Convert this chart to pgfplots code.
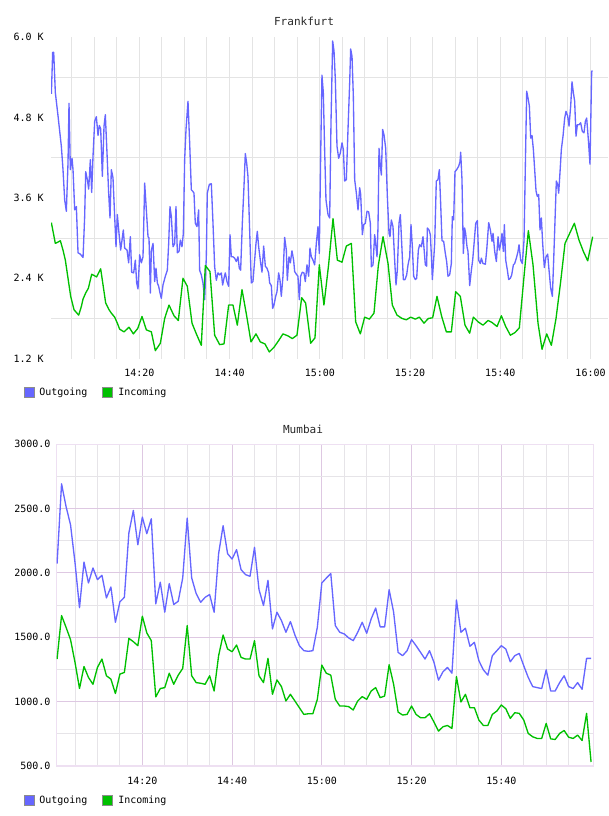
\documentclass[border=0pt]{standalone}
\usepackage{pgfplots}
\pgfplotsset{compat=1.18}
\usepackage{fontspec}
\setmonofont{DejaVu Sans Mono}

\definecolor{outgoing}{RGB}{102,102,255}
\definecolor{incoming}{RGB}{0,192,0}
\definecolor{fgrid}{RGB}{228,228,228}
\definecolor{mmajor}{RGB}{222,200,226}
\definecolor{mminor}{RGB}{230,228,232}
\definecolor{mframe}{RGB}{238,224,242}
\definecolor{keyborder}{RGB}{140,140,140}

\newcommand{\tickfont}{\ttfamily\fontsize{7.5}{9}\selectfont}
\newcommand{\titlefont}{\ttfamily\fontsize{8.3}{10}\selectfont}

\pgfplotsset{
  netchart/.style={
    scale only axis,
    anchor=south west,
    height=241.3pt,
    major tick length=0pt, minor tick length=0pt,
    tick style={draw=none},
    tick label style={font=\tickfont, text=black},
    xmajorgrids, xminorgrids, ymajorgrids, yminorgrids,
  },
  outline/.style={line width=1pt, line join=round, mark=none},
}

\begin{document}
\begin{tikzpicture}
\path[use as bounding box, clip] (0pt,0pt) rectangle (456pt,612pt);

% ---------------- Frankfurt ----------------
\node[font=\titlefont, anchor=base, text={rgb,255:red,40;green,40;blue,40}] at (228pt,592.5pt) {Frankfurt};

\begin{axis}[netchart,
  at={(38.25pt,342.98pt)}, width=417.75pt,
  xmin=0.43, xmax=123.87, ymin=1.2, ymax=6.0,
  axis line style={draw=none},
  xtick={20,40,60,80,100,120},
  xticklabels={14:20,14:40,15:00,15:20,15:40,16:00},
  minor xtick={5,10,15,25,30,35,45,50,55,65,70,75,85,90,95,105,110,115},
  ytick={1.2,2.4,3.6,4.8,6.0},
  yticklabels={1.2 K,2.4 K,3.6 K,4.8 K,6.0 K},
  minor ytick={1.8,3.0,4.2,5.4},
  ymajorgrids=false,
  xticklabel style={anchor=base, inner sep=0pt, yshift=-13.5pt},
  yticklabel style={anchor=east, inner sep=0pt, xshift=-5.25pt},
  major grid style={fgrid, line width=0.75pt},
  minor grid style={fgrid, line width=0.75pt},
]
% outgoing traffic, thousands
\addplot[outline, outgoing] table {
t v
0.51 5.15
0.80 5.77
1.03 5.77
1.39 5.17
1.99 4.82
2.72 4.37
3.09 4.02
3.46 3.57
3.83 3.40
4.20 4.12
4.42 5.01
4.72 4.02
5.09 4.19
5.31 4.02
5.68 3.42
6.05 3.47
6.42 2.78
6.93 2.76
7.53 2.71
7.89 3.32
8.12 3.99
8.49 3.87
8.78 3.73
9.15 4.17
9.45 3.68
9.74 4.22
10.11 4.74
10.48 4.81
10.85 4.53
11.14 4.68
11.44 4.63
11.81 3.92
12.18 4.67
12.47 4.84
12.84 4.27
13.21 3.67
13.51 3.30
13.80 4.02
14.17 3.90
14.54 3.32
14.84 2.87
15.13 3.35
15.50 3.07
15.87 2.82
16.17 2.97
16.46 3.12
16.76 2.85
17.28 2.82
17.64 2.63
18.01 3.02
18.31 2.49
18.75 2.48
19.12 2.67
19.42 2.33
19.71 2.24
20.08 2.75
20.45 2.63
20.82 2.72
21.19 3.82
21.56 3.42
21.93 3.02
22.15 3.00
22.45 2.18
22.67 2.82
23.04 2.92
23.41 2.35
23.70 2.55
24.00 2.33
24.29 2.28
24.59 2.18
24.88 2.10
25.25 2.30
25.77 2.43
26.21 2.52
26.51 2.92
26.80 3.47
27.10 3.32
27.47 2.87
27.84 2.92
28.13 3.47
28.43 2.78
28.80 2.80
29.09 2.97
29.46 2.87
29.76 3.07
30.05 4.17
30.35 4.62
30.79 5.04
31.16 4.42
31.53 3.72
31.82 3.70
32.12 3.67
32.41 3.22
32.78 3.17
33.15 3.42
33.37 2.52
33.74 2.45
34.11 2.33
34.48 2.08
34.85 2.72
35.07 3.67
35.52 3.80
35.96 3.81
36.33 3.22
36.70 2.57
37.07 2.37
37.44 2.48
37.81 2.45
38.18 2.48
38.47 2.30
38.77 2.40
39.06 2.48
39.43 2.35
39.80 2.28
40.10 3.05
40.39 2.72
40.76 2.72
41.13 2.70
41.50 2.65
41.87 2.72
42.16 2.55
42.46 2.52
42.83 3.22
43.20 3.77
43.49 4.26
43.79 4.12
44.08 3.92
44.45 3.12
44.82 2.33
45.19 2.35
45.56 2.67
45.86 2.92
46.15 3.10
46.45 2.87
46.89 2.63
47.19 2.49
47.56 2.88
47.93 2.58
48.29 2.55
48.66 2.48
48.89 2.33
49.26 2.29
49.55 1.95
49.85 2.00
50.22 2.13
50.51 2.20
50.88 2.48
51.18 2.37
51.47 2.13
51.84 2.43
52.21 3.01
52.58 2.82
52.80 2.37
53.17 2.72
53.47 2.63
53.83 2.81
54.20 2.67
54.43 2.50
54.80 2.46
55.16 2.43
55.46 2.08
55.75 2.43
56.12 2.49
56.49 2.48
56.79 2.35
57.16 2.60
57.53 2.43
57.82 2.85
58.12 2.72
58.49 2.67
58.86 2.60
59.23 2.92
59.60 3.17
59.89 2.77
60.19 4.22
60.48 5.43
60.78 5.17
61.07 4.32
61.37 3.57
61.82 3.35
62.19 3.30
62.48 4.72
62.85 5.94
63.15 5.79
63.44 5.37
63.81 4.37
64.18 4.19
64.55 4.27
64.92 4.42
65.22 4.32
65.51 3.85
65.88 3.87
66.25 4.62
66.62 5.32
66.84 5.82
67.14 5.71
67.43 5.12
67.73 3.87
68.10 3.67
68.47 3.42
68.84 3.75
69.06 3.65
69.43 3.05
69.72 3.20
70.09 3.22
70.46 3.40
70.83 3.39
71.20 3.22
71.42 2.57
71.79 2.60
72.16 3.05
72.38 2.92
72.68 2.72
72.90 3.17
73.12 4.34
73.42 4.07
73.64 3.94
73.93 4.62
74.23 4.54
74.60 4.34
74.97 3.62
75.34 3.07
75.56 3.02
75.85 3.27
76.22 3.17
76.59 2.67
76.89 2.30
77.18 2.52
77.55 3.22
77.85 3.35
78.22 2.82
78.51 2.38
78.88 2.38
79.25 2.45
79.55 2.60
79.92 2.72
80.21 3.20
80.51 2.87
80.80 2.43
81.17 2.38
81.47 2.40
81.84 2.82
82.13 2.90
82.50 2.87
82.87 3.02
83.09 2.85
83.39 2.60
83.68 2.58
83.83 3.15
84.20 3.12
84.50 3.05
84.79 2.65
84.94 2.38
85.23 2.67
85.46 2.92
85.82 3.85
86.19 3.87
86.49 4.02
86.78 3.52
87.08 2.96
87.45 2.95
87.82 2.77
88.11 2.65
88.41 2.43
88.78 2.45
89.15 2.62
89.37 3.32
89.66 3.27
89.96 3.99
90.33 4.02
90.77 4.07
91.07 4.14
91.22 4.28
91.51 3.87
91.81 2.77
92.10 3.15
92.32 3.07
92.62 2.87
92.84 2.80
93.22 2.29
93.59 2.52
93.88 2.67
94.25 2.97
94.55 3.22
94.92 3.26
95.21 2.67
95.58 2.62
95.80 2.70
96.17 2.62
96.69 2.61
96.99 2.82
97.43 3.23
97.80 3.12
98.17 2.95
98.39 3.07
98.76 2.80
99.13 2.65
99.50 3.02
99.79 2.82
100.09 2.92
100.38 3.07
100.68 2.80
100.90 3.20
101.20 2.67
101.57 2.52
101.86 2.38
102.23 2.40
102.53 2.45
102.90 2.60
103.19 2.62
103.56 2.70
103.93 2.80
104.15 2.90
104.52 2.67
104.89 2.62
105.26 2.97
105.55 4.07
105.85 5.19
106.14 5.09
106.44 4.97
106.74 4.49
107.03 4.53
107.33 4.32
107.62 4.02
107.92 3.70
108.21 3.62
108.51 3.65
108.80 3.12
109.10 3.30
109.39 2.92
109.76 2.56
110.13 2.72
110.50 2.76
110.80 2.52
111.17 2.25
111.54 2.13
111.83 2.67
112.13 3.27
112.42 3.85
112.72 3.80
112.94 3.67
113.24 3.99
113.53 4.32
113.90 4.52
114.27 4.79
114.56 4.89
114.93 4.82
115.23 4.67
115.60 4.97
115.89 5.33
116.19 5.17
116.48 5.04
116.78 4.52
117.08 4.69
117.45 4.69
117.81 4.72
118.18 4.59
118.55 4.57
118.85 4.74
119.14 4.79
119.51 4.47
119.88 4.10
120.25 5.49
120.47 5.49
};
% incoming traffic, thousands
\addplot[outline, incoming] table {
t v
0.51 3.23
1.39 2.92
1.99 2.94
2.50 2.96
3.09 2.82
3.61 2.67
4.20 2.40
4.79 2.13
5.53 1.93
6.57 1.85
7.16 1.98
7.53 2.09
8.12 2.18
8.71 2.25
9.45 2.46
10.55 2.42
11.44 2.54
12.55 2.03
13.21 1.94
13.80 1.88
14.54 1.82
15.13 1.73
15.65 1.64
16.61 1.60
17.72 1.67
18.68 1.57
19.64 1.65
20.60 1.83
21.56 1.63
22.67 1.60
23.55 1.32
24.66 1.43
25.62 1.80
26.58 2.00
27.69 1.84
28.65 1.77
29.68 2.40
30.64 2.28
31.68 1.73
32.64 1.57
33.74 1.40
34.63 2.59
35.66 2.50
36.70 1.55
37.81 1.41
38.77 1.42
39.80 2.00
40.76 2.00
41.72 1.70
42.76 2.23
43.79 1.84
44.75 1.45
45.86 1.57
46.82 1.45
47.85 1.42
48.81 1.30
49.85 1.37
50.88 1.47
51.84 1.57
52.95 1.54
53.91 1.50
54.94 1.55
55.98 2.11
56.86 2.03
57.97 1.43
58.93 1.51
59.89 2.60
60.92 2.00
61.95 2.60
62.93 3.29
63.89 2.67
64.92 2.64
65.88 2.88
66.99 2.92
67.95 1.75
68.98 1.57
69.94 1.82
70.98 1.79
72.01 1.88
72.97 2.59
74.01 3.02
75.12 2.62
76.07 2.00
77.11 1.85
78.22 1.80
79.18 1.78
80.14 1.82
81.17 1.79
82.06 1.82
83.09 1.73
84.05 1.80
85.01 1.81
85.97 2.13
87.01 1.83
88.04 1.60
89.15 1.60
90.11 2.20
91.14 2.13
92.18 1.70
93.21 1.58
94.03 1.82
95.07 1.75
96.17 1.70
97.28 1.77
98.17 1.74
99.28 1.68
100.24 1.84
101.20 1.68
102.23 1.55
103.26 1.59
104.22 1.66
105.26 2.43
106.22 3.11
107.25 2.60
108.36 1.73
109.25 1.34
110.28 1.57
111.32 1.40
112.35 1.80
113.38 2.35
114.34 2.92
115.38 3.07
116.41 3.22
117.44 2.97
118.41 2.80
119.37 2.66
120.47 3.02
};
\end{axis}

% key
\draw[keyborder, line width=0.75pt, fill=outgoing] (18pt,314.03pt) rectangle (25.5pt,321.53pt);
\node[font=\tickfont, anchor=base west, inner sep=0pt] at (29.25pt,315.23pt) {Outgoing};
\draw[keyborder, line width=0.75pt, fill=incoming] (76.5pt,314.03pt) rectangle (84pt,321.53pt);
\node[font=\tickfont, anchor=base west, inner sep=0pt] at (88.5pt,315.23pt) {Incoming};

% ---------------- Mumbai ----------------
\node[font=\titlefont, anchor=base, text={rgb,255:red,40;green,40;blue,40}] at (227.25pt,287.03pt) {Mumbai};

\begin{axis}[netchart,
  at={(42.53pt,37.5pt)}, width=402.75pt,
  xmin=0.92, xmax=120.59, ymin=500, ymax=3000,
  axis line style={draw=mframe, line width=1.1pt},
  xtick={20,40,60,80,100},
  xticklabels={14:20,14:40,15:00,15:20,15:40},
  minor xtick={5,10,15,25,30,35,45,50,55,65,70,75,85,90,95,105,110,115},
  ytick={500,1000,1500,2000,2500,3000},
  yticklabels={500.0,1000.0,1500.0,2000.0,2500.0,3000.0},
  minor ytick={750,1250,1750,2250,2750},
  xticklabel style={anchor=base, inner sep=0pt, yshift=-14.25pt},
  yticklabel style={anchor=east, inner sep=0pt, xshift=-4.5pt},
  major grid style={mmajor, line width=0.75pt},
  minor grid style={mminor, line width=0.75pt},
]
% outgoing traffic, one sample per minute
\addplot[outline, outgoing] table {
t v
1 2072
2 2692
3 2517
4 2374
5 2080
6 1730
7 2085
8 1922
9 2039
10 1948
11 1982
12 1806
13 1891
14 1617
15 1775
16 1811
17 2310
18 2486
19 2219
20 2434
21 2305
22 2421
23 1760
24 1928
25 1695
26 1917
27 1755
28 1780
29 1961
30 2426
31 1961
32 1840
33 1772
34 1811
35 1832
36 1695
37 2150
38 2367
39 2150
40 2108
41 2181
42 2026
43 1987
44 1974
45 2199
46 1871
47 1747
48 1943
49 1565
50 1695
51 1630
52 1539
53 1622
54 1518
55 1435
56 1396
57 1391
58 1396
59 1578
60 1922
61 1960
62 1995
63 1591
64 1539
65 1526
66 1495
67 1474
68 1539
69 1617
70 1531
71 1643
72 1727
73 1581
74 1581
75 1870
76 1695
77 1383
78 1357
79 1396
80 1482
81 1435
82 1383
83 1331
84 1396
85 1305
86 1167
87 1232
88 1266
89 1221
90 1790
91 1539
92 1570
93 1430
94 1461
95 1318
96 1247
97 1206
98 1357
99 1396
100 1435
101 1409
102 1310
103 1357
104 1375
105 1279
106 1188
107 1117
108 1109
109 1102
110 1247
111 1083
112 1083
113 1148
114 1201
115 1117
116 1102
117 1148
118 1096
119 1336
120 1336
};
% incoming traffic, one sample per minute
\addplot[outline, incoming] table {
t v
1 1331
2 1669
3 1578
4 1482
5 1305
6 1102
7 1273
8 1188
9 1135
10 1266
11 1331
12 1201
13 1175
14 1063
15 1214
16 1227
17 1492
18 1466
19 1435
20 1664
21 1534
22 1474
23 1037
24 1102
25 1109
26 1221
27 1135
28 1206
29 1258
30 1591
31 1201
32 1148
33 1143
34 1135
35 1201
36 1083
37 1357
38 1518
39 1409
40 1388
41 1440
42 1344
43 1331
44 1331
45 1474
46 1201
47 1148
48 1336
49 1057
50 1169
51 1117
52 1005
53 1057
54 1005
55 953
56 901
57 906
58 906
59 1018
60 1284
61 1221
62 1206
63 1018
64 966
65 966
66 961
67 935
68 1005
69 1039
70 1018
71 1083
72 1109
73 1031
74 1044
75 1287
76 1135
77 919
78 896
79 901
80 966
81 901
82 875
83 875
84 906
85 841
86 771
87 805
88 815
89 792
90 1195
91 997
92 1057
93 953
94 953
95 857
96 815
97 815
98 901
99 927
100 974
101 945
102 870
103 914
104 909
105 857
106 753
107 727
108 714
109 714
110 831
111 711
112 706
113 753
114 776
115 724
116 714
117 740
118 698
119 909
120 531
};
\end{axis}

% key
\draw[keyborder, line width=0.75pt, fill=outgoing] (18pt,7.73pt) rectangle (25.5pt,15.23pt);
\node[font=\tickfont, anchor=base west, inner sep=0pt] at (29.25pt,9.23pt) {Outgoing};
\draw[keyborder, line width=0.75pt, fill=incoming] (76.5pt,7.73pt) rectangle (84pt,15.23pt);
\node[font=\tickfont, anchor=base west, inner sep=0pt] at (88.5pt,9.23pt) {Incoming};
\end{tikzpicture}
\end{document}
